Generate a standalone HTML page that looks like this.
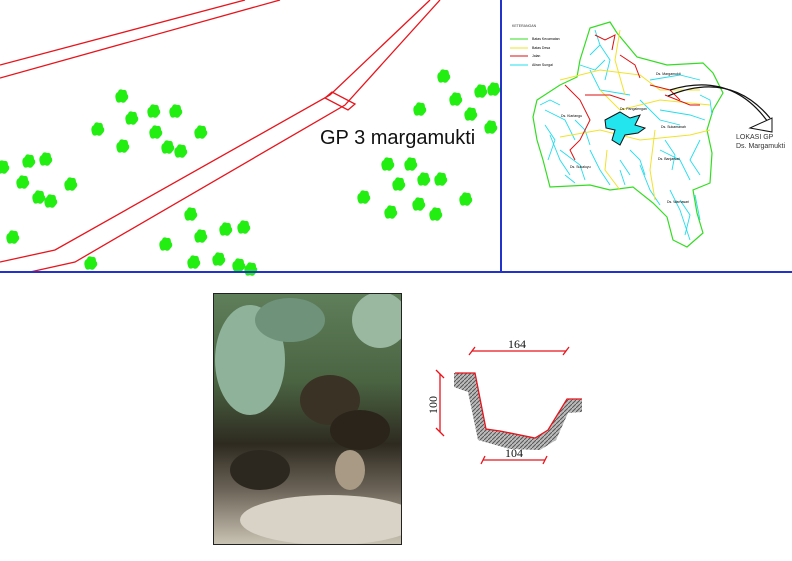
<!DOCTYPE html>
<html><head><meta charset="utf-8"><style>
html,body{margin:0;padding:0;background:#fff}
svg{display:block}
text{font-family:"Liberation Sans",sans-serif}
text.serif{font-family:"Liberation Serif",serif}
</style></head><body>
<svg width="792" height="561" viewBox="0 0 792 561" xmlns="http://www.w3.org/2000/svg">
<rect width="792" height="561" fill="#fff"/>
<g fill="none" stroke="#e8141c" stroke-width="1.3">
<polyline points="0,65 245,0"/>
<polyline points="0,78 280,0"/>
<polyline points="0,262 55,250 330,95 430,0"/>
<polyline points="30,272 75,262 345,105 440,0"/>
<polygon points="325,98 332,92 355,104 348,110" />
</g>
<g id="trees" fill="#22ee11"></g>
<text x="320" y="144" font-size="20" fill="#111">GP 3 margamukti</text>
<line x1="0" y1="272" x2="792" y2="272" stroke="#2233cc" stroke-width="2"/>
<line x1="501" y1="0" x2="501" y2="272" stroke="#2233cc" stroke-width="2"/>
<g>
<polygon id="dist" fill="#fff" stroke="#33dd22" stroke-width="1.2" points="537,100 560,85 577,77 580,60 590,28 610,22 617,33 637,57 667,65 703,63 713,73 723,93 713,110 707,130 712,153 710,183 693,190 697,213 703,233 687,247 673,240 667,217 653,203 633,187 610,190 590,185 550,187 543,160 537,140 533,117"/>
<g fill="none" stroke="#22ddee" stroke-width="0.9">
<polyline points="545,110 565,120 575,140"/><polyline points="560,150 580,165 585,180"/>
<polyline points="600,45 610,60 605,80"/><polyline points="590,70 600,90 630,95"/>
<polyline points="650,80 680,75 700,80"/><polyline points="660,110 690,115 705,120"/>
<polyline points="660,150 680,160 690,180"/><polyline points="670,190 680,210 690,240"/>
<polyline points="640,165 650,190 660,205"/><polyline points="620,160 630,175"/>
<polyline points="590,150 600,170 610,185"/><polyline points="700,140 690,160 700,175"/>
<polyline points="550,135 560,160 570,175"/><polyline points="640,100 660,120 680,125"/>
<polyline points="595,30 600,45 590,55"/><polyline points="580,65 595,70 605,60"/>
<polyline points="545,125 555,140 548,160"/><polyline points="565,175 575,183"/>
<polyline points="680,200 690,215 685,235"/><polyline points="695,195 700,220"/>
<polyline points="620,170 625,185"/><polyline points="665,140 675,155 672,170"/>
<polyline points="700,95 710,100 712,115"/><polyline points="540,105 550,100 560,105"/>
<polyline points="630,150 640,160 645,175"/><polyline points="575,120 585,130 590,145"/>
</g>
<g fill="none" stroke="#f2e22a" stroke-width="1">
<polyline points="560,80 600,70 640,75 660,90 700,90"/>
<polyline points="600,90 620,110 660,100 710,105"/>
<polyline points="560,137 600,130 640,140 690,135 710,130"/>
<polyline points="607,150 605,170 620,190"/><polyline points="655,130 650,170 655,200"/>
<polyline points="620,30 615,60 625,95"/>
</g>
<g fill="none" stroke="#dd1111" stroke-width="1">
<polyline points="565,85 580,100 590,120 580,140 570,150 575,160"/>
<polyline points="585,95 610,95 625,100"/><polyline points="595,35 605,40 615,35 612,50"/>
<polyline points="620,55 635,65 640,78"/><polyline points="650,85 670,90 680,100"/>
<polyline points="665,95 690,105 700,105"/>
</g>
<path d="M605,120 L620,112 L630,118 L640,115 L635,125 L645,128 L638,133 L625,135 L620,145 L612,140 L615,130 L606,128 Z" fill="#22e5ee" stroke="#111" stroke-width="1"/>
<text x="512" y="27" font-size="3.5" fill="#333">KETERANGAN</text>
<line x1="510" y1="39" x2="528" y2="39" stroke="#33dd22"/><text x="532" y="40" font-size="3.5">Batas Kecamatan</text>
<line x1="510" y1="48" x2="528" y2="48" stroke="#f2e22a"/><text x="532" y="49" font-size="3.5">Batas Desa</text>
<line x1="510" y1="56" x2="528" y2="56" stroke="#dd1111"/><text x="532" y="57" font-size="3.5">Jalan</text>
<line x1="510" y1="65" x2="528" y2="65" stroke="#22ddee"/><text x="532" y="66" font-size="3.5">Aliran Sungai</text>
<text x="656" y="75" font-size="3.5">Ds. Margamukti</text>
<text x="561" y="117" font-size="3.5">Ds. Kiarlangu</text>
<text x="620" y="110" font-size="3.5">Ds. Pangalengan</text>
<text x="661" y="128" font-size="3.5">Ds. Sukamanah</text>
<text x="658" y="160" font-size="3.5">Ds. Banjarsari</text>
<text x="570" y="168" font-size="3.5">Ds. Sukaluyu</text>
<text x="667" y="203" font-size="3.5">Ds. Warnasari</text>
<path d="M668,96 Q730,70 770,118" fill="none" stroke="#111" stroke-width="1.2"/>
<path d="M670,90 Q735,70 772,128" fill="none" stroke="#111" stroke-width="1.2"/>
<polygon points="750,128 772,118 772,132" fill="#fff" stroke="#111"/>
<text x="736" y="139" font-size="7" fill="#333">LOKASI GP</text>
<text x="736" y="148" font-size="7" fill="#333">Ds. Margamukti</text>
</g>
<g>
<defs>
<linearGradient id="pg" x1="0" y1="0" x2="0" y2="1">
<stop offset="0" stop-color="#5f7e5a"/><stop offset="0.35" stop-color="#4a6442"/>
<stop offset="0.6" stop-color="#2e2a20"/><stop offset="0.78" stop-color="#6a6256"/>
<stop offset="1" stop-color="#c9c3b3"/></linearGradient>
<clipPath id="pc"><rect x="214" y="294" width="187" height="250"/></clipPath>
</defs>
<rect x="214" y="294" width="187" height="250" fill="url(#pg)"/>
<g clip-path="url(#pc)">
<ellipse cx="250" cy="360" rx="35" ry="55" fill="#8fb39a"/>
<ellipse cx="290" cy="320" rx="35" ry="22" fill="#6f937a"/>
<ellipse cx="380" cy="320" rx="28" ry="28" fill="#9ab8a0"/>
<ellipse cx="330" cy="400" rx="30" ry="25" fill="#3a3224"/>
<ellipse cx="360" cy="430" rx="30" ry="20" fill="#2a241a"/>
<ellipse cx="260" cy="470" rx="30" ry="20" fill="#2c2820"/>
<ellipse cx="330" cy="520" rx="90" ry="25" fill="#d8d3c6"/>
<ellipse cx="350" cy="470" rx="15" ry="20" fill="#a89a84"/>
</g>
<rect x="213.5" y="293.5" width="188" height="251" fill="none" stroke="#222" stroke-width="1"/>
</g>
<g>
<defs><pattern id="hat" width="4" height="4" patternUnits="userSpaceOnUse"><rect width="4" height="4" fill="#bbb"/><path d="M0,4 L4,0" stroke="#555" stroke-width="1"/></pattern></defs>
<path d="M454,373 L475,373 L486,429 L500,431 L535,438 L548,430 L567,399 L582,399 L582,412 L568,413 L556,440 L540,450 L510,449 L478,440 L468,392 L454,387 Z" fill="url(#hat)"/>
<polyline points="455,373 475,373 486,429 500,431 535,438 548,430 567,399 582,399" fill="none" stroke="#e8141c" stroke-width="1.3"/>
<g stroke="#e8141c" stroke-width="1.3">
<line x1="472" y1="351" x2="566" y2="351"/><line x1="469" y1="355" x2="475" y2="347"/><line x1="563" y1="355" x2="569" y2="347"/>
<line x1="440" y1="374" x2="440" y2="432"/><line x1="436" y1="370" x2="444" y2="378"/><line x1="436" y1="428" x2="444" y2="436"/>
<line x1="483" y1="460" x2="545" y2="460"/><line x1="481" y1="464" x2="485" y2="456"/><line x1="543" y1="464" x2="547" y2="456"/>
</g>
<text class="serif" x="508" y="348" font-size="12" fill="#111">164</text>
<text class="serif" x="505" y="457" font-size="12" fill="#111">104</text>
<text class="serif" x="437" y="414" font-size="12" fill="#111" transform="rotate(-90 437 414)">100</text>
</g>
</svg>
<script>
const treeX=[121,131,153,175,155,200,97,122,167,180,28,45,2,22,38,50,70,12,90,165,190,200,225,243,193,218,238,250,443,419,455,480,493,470,490,387,398,363,390,423,440,418,435,465,410];
const treeY=[97,119,112,112,133,133,130,147,148,152,162,160,168,183,198,202,185,238,264,245,215,237,230,228,263,260,266,270,77,110,100,92,90,115,128,165,185,198,213,180,180,205,215,200,165];
const g=document.getElementById('trees');
treeX.forEach((x,i)=>{
  const c=document.createElementNS('http://www.w3.org/2000/svg','path');
  const y=treeY[i];
  c.setAttribute('d',`M${x-5},${y+3} q-2,-6 2,-8 q1,-4 5,-2 q4,-1 4,4 q3,3 -1,7 q-2,3 -5,1 q-4,2 -5,-2z`);
  
  
  g.appendChild(c);
});
</script>
</body></html>
